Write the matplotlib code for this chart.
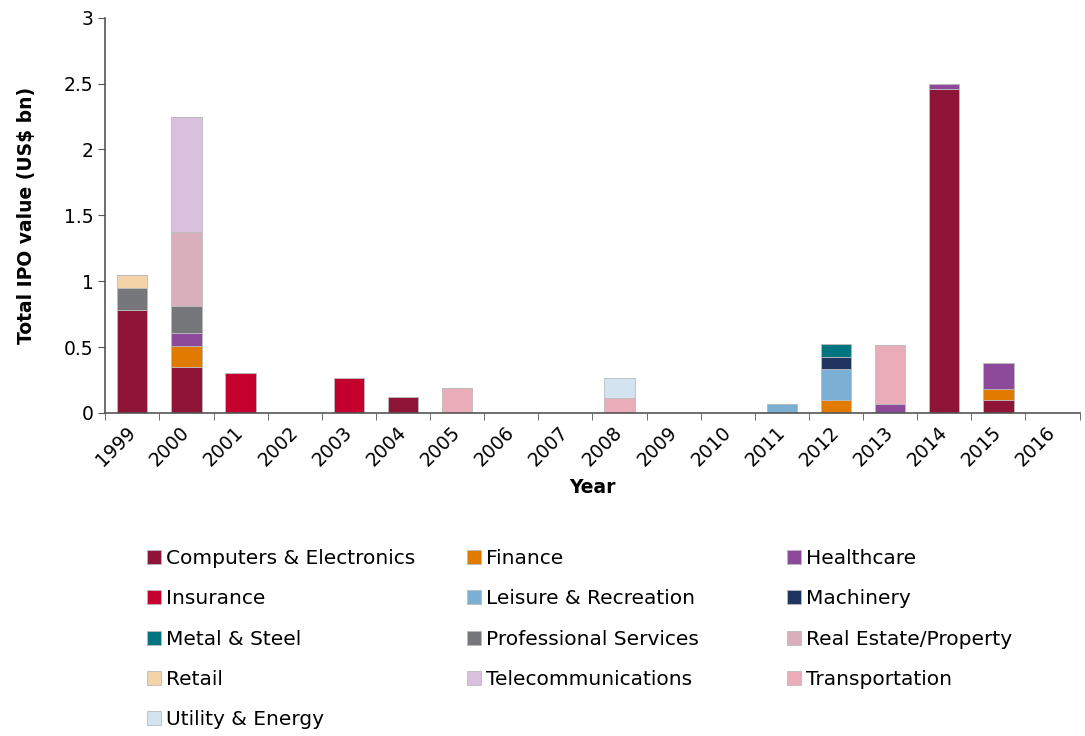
import numpy as np
import matplotlib.pyplot as plt

years = [str(y) for y in range(1999, 2017)]
sectors = ["Computers & Electronics", "Finance", "Healthcare", "Insurance",
           "Leisure & Recreation", "Machinery", "Metal & Steel",
           "Professional Services", "Real Estate/Property", "Retail",
           "Telecommunications", "Transportation", "Utility & Energy"]
colors = ["#8e1538", "#e07b00", "#8e4a9a", "#c5002f", "#7bafd4", "#1f3460",
          "#007580", "#76777b", "#d9afbc", "#f5d3a8", "#d8c0de", "#eaacb9",
          "#d3e3f0"]

#                1999  2000  2001  2002  2003  2004  2005  2006  2007  2008  2009  2010  2011  2012  2013  2014  2015  2016
computers   = [0.78, 0.35, 0,    0,    0,    0.12, 0,    0,    0,    0,    0,    0,    0,    0,    0,    2.46, 0.10, 0]
finance     = [0,    0.155, 0,   0,    0,    0,    0,    0,    0,    0,    0,    0,    0,    0.095, 0,   0,    0.08, 0]
healthcare  = [0,    0.10, 0,    0,    0,    0,    0,    0,    0,    0,    0,    0,    0,    0,    0.065, 0.04, 0.195, 0]
insurance   = [0,    0,    0.30, 0,    0.265, 0,   0,    0,    0,    0,    0,    0,    0,    0,    0,    0,    0,    0]
leisure     = [0,    0,    0,    0,    0,    0,    0,    0,    0,    0,    0,    0,    0.065, 0.235, 0,  0,    0,    0]
machinery   = [0,    0,    0,    0,    0,    0,    0,    0,    0,    0,    0,    0,    0,    0.095, 0,   0,    0,    0]
metal       = [0,    0,    0,    0,    0,    0,    0,    0,    0,    0,    0,    0,    0,    0.095, 0,   0,    0,    0]
professional = [0.17, 0.21, 0,   0,    0,    0,    0,    0,    0,    0,    0,    0,    0,    0,    0,    0,    0,    0]
real_estate = [0,    0.555, 0,   0,    0,    0,    0,    0,    0,    0,    0,    0,    0,    0,    0,    0,    0,    0]
retail      = [0.10, 0,    0,    0,    0,    0,    0,    0,    0,    0,    0,    0,    0,    0,    0,    0,    0,    0]
telecom     = [0,    0.875, 0,   0,    0,    0,    0,    0,    0,    0,    0,    0,    0,    0,    0,    0,    0,    0]
transport   = [0,    0,    0,    0,    0,    0,    0.19, 0,    0,    0.115, 0,   0,    0,    0,    0.45, 0,    0,    0]
utility     = [0,    0,    0,    0,    0,    0,    0,    0,    0,    0.15, 0,    0,    0,    0,    0,    0,    0,    0]

series = [computers, finance, healthcare, insurance, leisure, machinery, metal,
          professional, real_estate, retail, telecom, transport, utility]

plt.rcParams['font.family'] = 'DejaVu Sans'
fig = plt.figure(figsize=(10.85, 7.36), dpi=100)
ax = fig.add_axes([0.097, 0.439, 0.898, 0.537])

x = np.arange(len(years))
bottom = np.zeros(len(years))
handles = []
for name, vals, c in zip(sectors, series, colors):
    vals = np.array(vals, dtype=float)
    b = ax.bar(x, vals, 0.56, bottom=bottom, color=c, edgecolor='#bbbbbb',
               linewidth=0.6, label=name)
    handles.append(b)
    bottom += vals

ax.set_xlim(-0.5, len(years) - 0.5)
ax.set_ylim(0, 3)
ax.set_yticks(np.arange(0, 3.01, 0.5))
ax.set_yticklabels(["0", "0.5", "1", "1.5", "2", "2.5", "3"], fontsize=13.5)
ax.set_xticks(x - 0.12)
ax.set_xticklabels(years, rotation=45, ha='right', rotation_mode='anchor', fontsize=13.5)
ax.set_xticks(np.arange(-0.5, len(years)), minor=True)
ax.tick_params(axis='x', which='major', length=0, pad=7)
ax.tick_params(axis='x', which='minor', length=5, color='#555555')
ax.tick_params(axis='y', length=5, color='#555555')
for s in ['top', 'right']:
    ax.spines[s].set_visible(False)
for s in ['left', 'bottom']:
    ax.spines[s].set_color('#555555')
    ax.spines[s].set_linewidth(1.2)

ax.set_ylabel("Total IPO value (US$ bn)", fontsize=13.5, fontweight='bold', labelpad=20)
ax.set_xlabel("Year", fontsize=13.5, fontweight='bold', labelpad=6)

# legend: three separate columns, filled row-wise
col_x = [0.128, 0.423, 0.718]
for i in range(3):
    h = handles[i::3]
    fig.legend(handles=h, labels=[sectors[j] for j in range(i, len(sectors), 3)],
               loc='upper left', bbox_to_anchor=(col_x[i], 0.265), frameon=False,
               fontsize=14.5, handlelength=0.7, handleheight=0.7,
               handletextpad=0.25, labelspacing=1.06, borderaxespad=0)

fig.savefig("out.png", dpi=100)
